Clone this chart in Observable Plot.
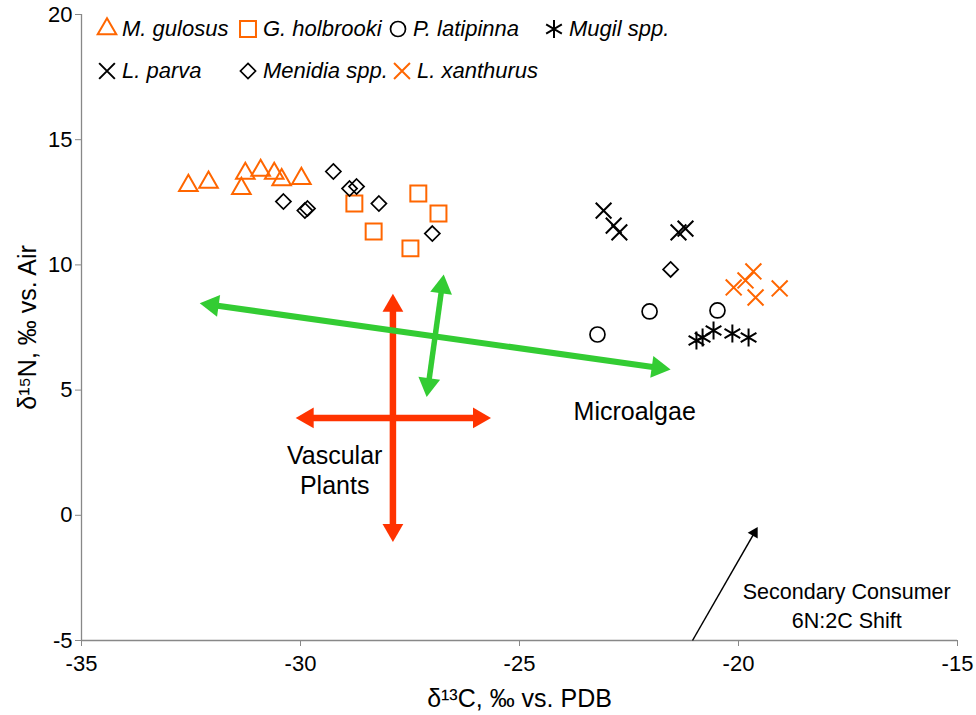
<!DOCTYPE html>
<html><head><meta charset="utf-8">
<script src="https://cdn.jsdelivr.net/npm/d3@7"></script>
<script src="https://cdn.jsdelivr.net/npm/@observablehq/plot@0.6"></script>
<style>
body{margin:0;background:#fff;font-family:"Liberation Sans",Arial,sans-serif;}
#wrap{position:relative;width:976px;height:715px;}
.leg{position:absolute;display:flex;align-items:center;font-style:italic;font-size:22px;white-space:nowrap;line-height:1;color:#000;}
.leg svg{display:block;overflow:visible;}
</style></head><body><div id="wrap"></div>
<script>
// ---- data (δ13C, δ15N) ----
const mGulosus = [[-32.56,13.17],[-32.1,13.3],[-31.35,13.05],[-31.26,13.65],[-30.91,13.77],[-30.6,13.65],[-30.43,13.4],[-29.98,13.45]];
const gHolbrooki = [[-28.77,12.45],[-27.31,12.85],[-26.85,12.05],[-28.33,11.33],[-27.49,10.66]];
const pLatipinna = [[-23.22,7.22],[-22.03,8.14],[-20.48,8.18]];
const mugilSpp = [[-20.96,6.98],[-20.82,7.1],[-20.57,7.38],[-20.14,7.26],[-19.77,7.1]];
const lParva = [[-23.08,12.17],[-22.85,11.57],[-22.72,11.3],[-21.37,11.3],[-21.21,11.45]];
const menidiaSpp = [[-29.25,13.73],[-28.88,13.05],[-28.72,13.13],[-30.39,12.53],[-29.9,12.17],[-29.84,12.25],[-28.21,12.45],[-26.99,11.25],[-21.55,9.82]];
const lXanthurus = [[-19.66,9.74],[-19.84,9.38],[-20.11,9.1],[-19.61,8.7],[-19.06,9.06]];

const xTicks = [-35,-30,-25,-20,-15];
const yTicks = [-5,0,5,10,15,20];

// annotation arrows [x1,y1,x2,y2] in data units
const greenArrows = [[-32.3,8.47,-21.55,5.82],[-26.73,9.62,-27.12,4.72]];
const redArrows = [[-27.89,8.85,-27.89,-1.07],[-30.11,3.89,-25.65,3.89]];
const shiftArrow = [[-21.05,-5,-19.57,-0.49]];

const noteMicro = ["Microalgae", -22.37, 4.11];
const noteVascular = ["Vascular\nPlants", -29.22, 1.83];
const noteShift = ["Secondary Consumer\n6N:2C Shift", -17.53, -3.54];

// ---- styles ----
const ORANGE = "#FF6600", RED = "#FF3300", GREEN = "#33CC33";
const W = 976, H = 715, ML = 81, MR = 19, MT = 14, MB = 75;
const kx = (W-ML-MR)/20, ky = (H-MT-MB)/25;

const series = [
  {name:"M. gulosus", data:mGulosus, symbol:"triangle", color:ORANGE, r:6.9, d3s:d3.symbolTriangle},
  {name:"G. holbrooki", data:gHolbrooki, symbol:"square", color:ORANGE, r:9, d3s:d3.symbolSquare},
  {name:"P. latipinna", data:pLatipinna, symbol:"circle", color:"#000", r:7.5, d3s:d3.symbolCircle},
  {name:"Mugil spp.", data:mugilSpp, symbol:"asterisk", color:"#000", r:8.6, d3s:d3.symbolAsterisk},
  {name:"L. parva", data:lParva, symbol:"times", color:"#000", r:7.2, d3s:d3.symbolTimes},
  {name:"Menidia spp.", data:menidiaSpp, symbol:"diamond2", color:"#000", r:6.8, d3s:d3.symbolDiamond2},
  {name:"L. xanthurus", data:lXanthurus, symbol:"times", color:ORANGE, r:7.3, d3s:d3.symbolTimes}
];

function arrowParts(arrows, both, L) {
  const lines = [], heads = [];
  const back = 2*L/3;
  for (const [x1,y1,x2,y2] of arrows) {
    const dxp = (x2-x1)*kx, dyp = -(y2-y1)*ky;
    const len = Math.hypot(dxp,dyp), ux = dxp/len, uy = dyp/len;
    const ang = Math.atan2(dyp,dxp)*180/Math.PI;
    const endC = {x: x2 - ux*back/kx, y: y2 + uy*back/ky, rotate: ang+90};
    heads.push(endC);
    let startC = {x:x1, y:y1};
    if (both) {
      startC = {x: x1 + ux*back/kx, y: y1 - uy*back/ky, rotate: ang-90};
      heads.push(startC);
    }
    lines.push({x1:startC.x, y1:startC.y, x2:endC.x, y2:endC.y});
  }
  return {lines, heads};
}
function triR(L){ const y = L/3; return Math.sqrt(3*Math.sqrt(3)*y*y/Math.PI); }

const red = arrowParts(redArrows, true, 18);
const green = arrowParts(greenArrows, true, 19);
const blk = arrowParts(shiftArrow, false, 9);

const sw = s => s.color===ORANGE ? 2 : (s.symbol==="asterisk"||s.symbol==="times" ? 2 : 1.7);

const marks = [
  Plot.ruleX([-35], {stroke:"#888", strokeWidth:1.3}),
  Plot.ruleY([-5], {stroke:"#888", strokeWidth:1.3}),
  Plot.axisX({ticks:xTicks, tickFormat:d=>String(d), tickSize:6, tickPadding:9, fontSize:22, stroke:"#888", label:null}),
  Plot.axisY({ticks:yTicks, tickFormat:d=>String(d), tickSize:6, tickPadding:3, fontSize:22, stroke:"#888", label:null}),
  Plot.link(red.lines, {x1:"x1",y1:"y1",x2:"x2",y2:"y2", stroke:RED, strokeWidth:6.5}),
  Plot.dot(red.heads, {x:"x", y:"y", rotate:"rotate", symbol:"triangle", r:triR(18), fill:RED, stroke:null}),
  Plot.link(green.lines.slice(0,1), {x1:"x1",y1:"y1",x2:"x2",y2:"y2", stroke:GREEN, strokeWidth:6}),
  Plot.link(green.lines.slice(1), {x1:"x1",y1:"y1",x2:"x2",y2:"y2", stroke:GREEN, strokeWidth:5.5}),
  Plot.dot(green.heads, {x:"x", y:"y", rotate:"rotate", symbol:"triangle", r:triR(19), fill:GREEN, stroke:null}),
  Plot.link(blk.lines, {x1:"x1",y1:"y1",x2:"x2",y2:"y2", stroke:"#000", strokeWidth:1.5}),
  Plot.dot(blk.heads, {x:"x", y:"y", rotate:"rotate", symbol:"triangle", r:triR(10), fill:"#000", stroke:null}),
  Plot.text([noteMicro], {x:d=>d[1], y:d=>d[2], text:d=>d[0], fontSize:25, fill:"#000"}),
  Plot.text([noteVascular], {x:d=>d[1], y:d=>d[2], text:d=>d[0], fontSize:25, lineHeight:1.2, fill:"#000"}),
  Plot.text([noteShift], {x:d=>d[1], y:d=>d[2], text:d=>d[0], fontSize:21.5, lineHeight:1.35, fill:"#000"}),
  ...series.map(s => Plot.dot(s.data, {x:d=>d[0], y:d=>d[1], symbol:s.symbol, r:s.r, stroke:s.color, fill:"none", strokeWidth:sw(s)})),
  Plot.text(["δ¹³C, ‰ vs. PDB"], {frameAnchor:"bottom", dy:66, fontSize:25, fill:"#000"}),
  Plot.text(["δ¹⁵N, ‰ vs. Air"], {frameAnchor:"left", textAnchor:"middle", lineAnchor:"middle", dx:-54, rotate:-90, fontSize:25, fill:"#000"})
];

const chart = Plot.plot({
  width:W, height:H, marginLeft:ML, marginRight:MR, marginTop:MT, marginBottom:MB,
  x:{domain:[-35,-15]}, y:{domain:[-5,20]},
  style:{fontFamily:'"Liberation Sans", Arial, sans-serif', background:"#fff", color:"#000", overflow:"visible"},
  marks
});
const wrap = document.getElementById("wrap");
wrap.appendChild(chart);

// legend (inside plot area, top-left)
const legPos = [[98,29],[239,29],[389,29],[545,29],[98,71],[239,71],[393,71]];
series.forEach((s,i) => {
  const [lx, ly] = legPos[i];
  const item = document.createElement("div");
  item.className = "leg";
  item.style.left = lx + "px";
  item.style.top = (ly - 12) + "px";
  item.style.height = "24px";
  const sz = 18;
  const svg = d3.create("svg").attr("width", sz).attr("height", sz).style("margin-right","6px");
  svg.append("path")
    .attr("transform", `translate(${sz/2},${sz/2})`)
    .attr("d", d3.symbol(s.d3s, Math.PI*s.r*s.r)())
    .attr("fill","none").attr("stroke", s.color).attr("stroke-width", sw(s));
  item.appendChild(svg.node());
  const t = document.createElement("span");
  t.textContent = s.name;
  item.appendChild(t);
  wrap.appendChild(item);
});
</script></body></html>
